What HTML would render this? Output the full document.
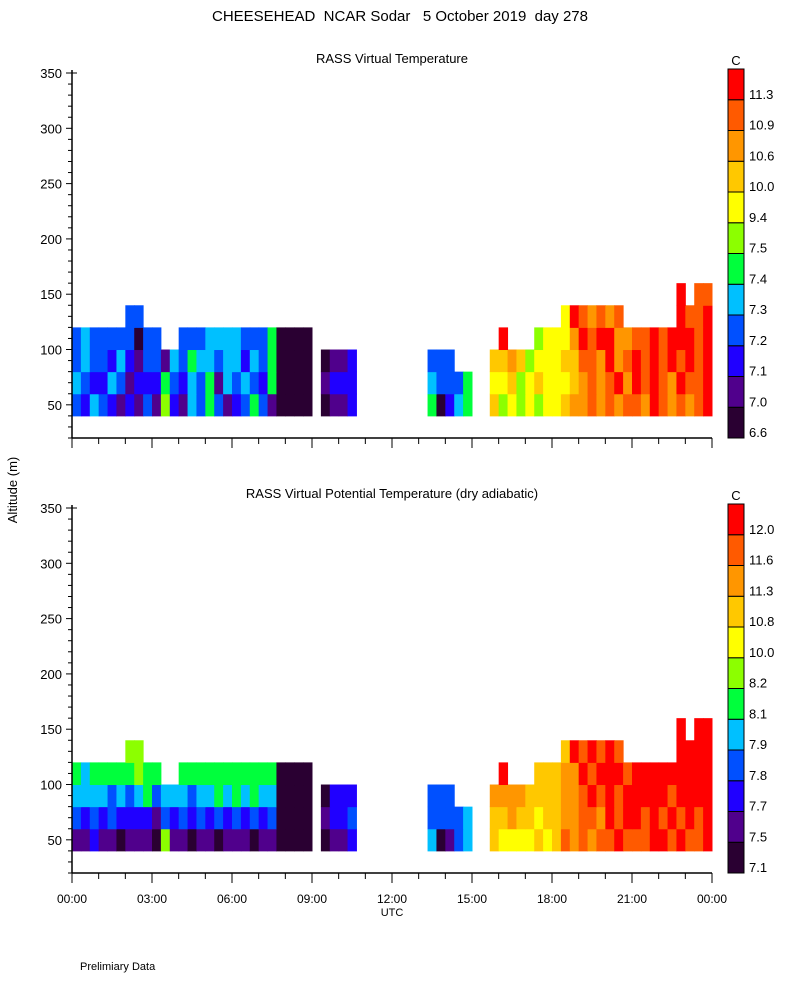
<!DOCTYPE html>
<html><head><meta charset="utf-8"><style>
body{margin:0;background:#fff;}
svg text{font-family:"Liberation Sans",sans-serif;fill:#000;}
</style></head><body>
<svg id="chart" width="800" height="1000" xmlns="http://www.w3.org/2000/svg">
<rect width="800" height="1000" fill="#fff"/>
<text x="400" y="21" font-size="15" text-anchor="middle" xml:space="preserve">CHEESEHEAD  NCAR Sodar   5 October 2019  day 278</text>
<text x="0" y="0" font-size="13" text-anchor="middle" transform="translate(17,490) rotate(-90)">Altitude (m)</text>
<text x="392" y="916" font-size="11" text-anchor="middle">UTC</text>
<text x="80" y="970" font-size="11">Prelimiary Data</text>
<g id="panels"></g>
</svg>
<script>
const colors=["#2a0032","#50008c","#2000ff","#0050ff","#00c0ff","#00ff3c","#8cff00","#ffff00","#ffc800","#ff9600","#ff5a00","#ff0000"];
const topLabels=["6.6","7.0","7.1","7.2","7.3","7.4","7.5","9.4","10.0","10.6","10.9","11.3"];
const botLabels=["7.1","7.5","7.7","7.8","7.9","8.1","8.2","10.0","10.8","11.3","11.6","12.0"];
const heights=[40,60,80,100,120,140,160];
const yTicks=[50,100,150,200,250,300,350];
const xTickLabels=["00:00","03:00","06:00","09:00","12:00","15:00","18:00","21:00","00:00"];
// each row: 24 hourly chunks of three 20-min cells; '.' missing, hex level index 0-b
const topR0=["324","321","213","162","143","531","235","310","000",".01","12.","...","...",".50","245","..8","676","767","789","9a9","a9a","a9b","a9a","9ab"];
const topR1=["432","243","122","253","243","514","343","250","000",".12","22.","...","...",".43","335","..7","786","787","778","9a9","ab9","bab","a9b","aab"];
const topR2=["343","324","213","314","354","434","424","350","000",".01","12.","...","...",".33","3..","..8","898","677","788","aa9","b9a","bab","aba","bab"];
const topR3=["343","333","303","3..","333","444","433","350","000","...","...","...","...","...","...","...","b..",".67","779","bab","b99","aab","abb","bab"];
const topR4=["...","...","33.","...","...","...","...","...","...","...","...","...","...","...","...","...","...","...",".7b","a9a","9a.","...","..b","aab"];
const topR5=["...","...","...","...","...","...","...","...","...","...","...","...","...","...","...","...","...","...","...","...","...","...","..b",".aa"];
const botR0=["112","110","111","061","101","101","110","110","000",".01","12.","...","...",".40","134","..8","777","787","8a9","a9a","aba","aab","bab","aab"];
const botR1=["323","232","222","132","323","232","323","230","000",".12","23.","...","...",".33","334","..8","898","878","899","aa9","bab","bab","aba","bab"];
const botR2=["444","434","345","344","434","454","545","440","000",".02","22.","...","...",".33","3..","..9","999","888","899","aba","bab","bbb","bab","bbb"];
const botR3=["545","555","565","5..","555","555","555","550","000","...","...","...","...","...","...","...","b..",".88","899","bab","bba","bbb","bbb","bbb"];
const botR4=["...","...","66.","...","...","...","...","...","...","...","...","...","...","...","...","...","...","...",".8b","aba","ba.","...","..b","bbb"];
const botR5=["...","...","...","...","...","...","...","...","...","...","...","...","...","...","...","...","...","...","...","...","...","...","..b",".bb"];
const topData=[topR0,topR1,topR2,topR3,topR4,topR5].map(a=>a.join(''));
const botData=[botR0,botR1,botR2,botR3,botR4,botR5].map(a=>a.join(''));
const NS="http://www.w3.org/2000/svg";
const X0=72,X1=712;
function xs(h){return X0+(X1-X0)*h/24;}
function mk(tag,attrs,parent){const e=document.createElementNS(NS,tag);for(const k in attrs)e.setAttribute(k,attrs[k]);parent.appendChild(e);return e;}
function panel(top,data,labels,title,showX,name){
  const g=mk('g',{},document.getElementById('panels'));
  
  
  const bottom=top+365;
  const ys=v=>bottom-(v-20)*(365/330);
  for(let r=0;r<6;r++){for(let i=0;i<72;i++){const c=data[r][i];if(c==='.'||c===undefined)continue;
    const lv=parseInt(c,16);
    const cell=mk('rect',{x:xs(i/3),y:ys(heights[r+1]),width:xs((i+1)/3)-xs(i/3)+0.5,height:ys(heights[r])-ys(heights[r+1])+0.5,fill:colors[lv]},g);
    
    }}
  mk('line',{x1:X0,y1:top-3,x2:X0,y2:bottom,stroke:'#000','stroke-width':1.5},g);
  mk('line',{x1:X0,y1:bottom,x2:X1,y2:bottom,stroke:'#000','stroke-width':1.5},g);
  for(let v=20;v<=350;v+=10){const y=ys(v);const maj=v%50===0;mk('line',{x1:X0,y1:y,x2:X0-(maj?6:4),y2:y,stroke:'#000'},g);}
  mk('line',{x1:X0,y1:ys(350),x2:X0+5,y2:ys(350),stroke:'#000'},g);
  yTicks.forEach(v=>{const t=mk('text',{x:X0-10,y:ys(v)+5,'font-size':13,'text-anchor':'end'},g);t.textContent=v;});
  for(let h=0;h<=24;h++){const x=xs(h);mk('line',{x1:x,y1:bottom,x2:x,y2:bottom+(h%3===0?10:6),stroke:'#000'},g);}
  if(showX)xTickLabels.forEach((s,k)=>{const t=mk('text',{x:xs(k*3),y:bottom+30,'font-size':12,'text-anchor':'middle'},g);t.textContent=s;});
  const tt=mk('text',{x:392,y:top-10,'font-size':13,'text-anchor':'middle'},g);tt.textContent=title;
  
  const cbTop=top-4,cbBot=bottom,n=colors.length,bh=(cbBot-cbTop)/n;
  for(let k=0;k<n;k++){const y=cbBot-(k+1)*bh;
    const b=mk('rect',{x:728,y:y,width:16,height:bh,fill:colors[k],stroke:'#000','stroke-width':1},g);
    
    const l=mk('text',{x:749,y:y+bh-1,'font-size':13},g);l.textContent=labels[k];
    }
  const u=mk('text',{x:736,y:cbTop-4,'font-size':13,'text-anchor':'middle'},g);u.textContent='C';
  
}
panel(73,topData,topLabels,'RASS Virtual Temperature',false,'virtual-temperature-panel');
panel(508,botData,botLabels,'RASS Virtual Potential Temperature (dry adiabatic)',true,'potential-temperature-panel');
</script>
</body></html>
